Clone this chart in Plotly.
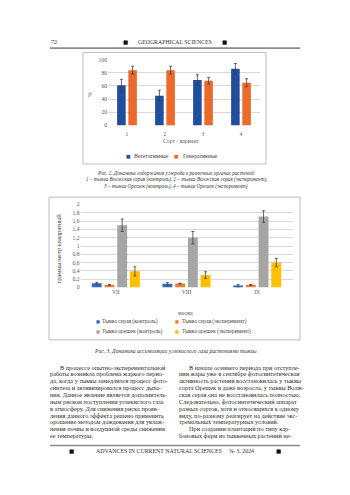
import plotly.graph_objects as go

W, H = 350, 495

# ---------------- data: chart 1 (Рис. 2) ----------------
cats1 = ["1", "2", "3", "4"]
veg_name = "Вегетативные"
veg_vals = [61, 45, 69, 86]
veg_err = [9, 8.5, 8, 8]
gen_name = "Генеративные"
gen_vals = [84, 84, 68, 65]
gen_err = [6, 6, 5, 6]
y1_ticks = [0, 20, 40, 60, 80, 100]
y1_labels = ["0", "20", "40", "60", "80", "100"]

# ---------------- data: chart 2 (Рис. 3) ----------------
months = ["VII", "VIII", "IX"]
s2_names = ["Тыква серая (контроль)", "Тыква серая (эксперимент)",
            "Тыква орешек (контроль)", "Тыква орешек (эксперимент)"]
seraya_ctrl = [0.10, 0.09, 0.04]
seraya_ctrl_err = [0.02, 0.03, 0.03]
seraya_exp = [0.065, 0.095, 0.065]
seraya_exp_err = [0.01, 0.01, 0.01]
oreshek_ctrl = [1.5, 1.2, 1.71]
oreshek_ctrl_err = [0.15, 0.15, 0.14]
oreshek_exp = [0.39, 0.30, 0.60]
oreshek_exp_err = [0.11, 0.08, 0.10]
y2_ticks = [0, 0.2, 0.4, 0.6, 0.8, 1, 1.2, 1.4, 1.6, 1.8, 2]
y2_labels = ["0", "0,2", "0,4", "0,6", "0,8", "1", "1,2", "1,4", "1,6", "1,8", "2"]

# ---------------- page text ----------------
header_left = "72"
header_title = "GEOGRAPHICAL SCIENCES"
footer_title = "ADVANCES IN CURRENT NATURAL SCIENCES     № 3, 2024"
cap1 = ["Рис. 2. Динамика содержания углерода в различных органах растений:",
        "1 – тыква Волжская серая (контроль), 2 – тыква Волжская серая (эксперимент),",
        "3 – тыква Орешек (контроль), 4 – тыква Орешек (эксперимент)"]
cap2 = "Рис. 3. Динамика ассимиляции углекислого газа растениями тыквы"
x1_title = "Сорт / вариант"
y1_title = "%"
x2_title = "месяц"
y2_title = "граммы/метр квадратный"
left_col = ["В процессе опытно-эксперементальной",
            "работы возникла проблема жаркого перио-",
            "да, когда у тыквы замедлился процесс фото-",
            "синтеза и активизировался процесс дыха-",
            "ния. Данное явление является дополнитель-",
            "ным риском поступления углекислого газа",
            "в атмосферу. Для снижения риска прояв-",
            "ления данного эффекта решено применить",
            "орошение методом дождевания для увлаж-",
            "нения почвы и воздушной среды снижения",
            "ее температуры."]
right_col = ["В начале осеннего периода при отступле-",
             "нии жары уже в сентябре фотосинтетическая",
             "активность растений восстановилась у тыквы",
             "сорта Орешек и даже возросла, у тыквы Волж-",
             "ская серая она не восстановилась полностью.",
             "Следовательно, фотосинтетический аппарат",
             "разных сортов, хотя и относящихся к одному",
             "виду, по-разному реагирует на действие экс-",
             "тремальных температурных условий.",
             "При создании плантаций по типу кар-",
             "боновых ферм из тыквенных растений не-"]
right_indent = [0, 9]  # paragraph-start line indices


def X(px):
    return px / W


def Y(py):
    return 1 - py / H


SERIF = "Liberation Serif, Times New Roman, serif"
C1 = ["#1F4E9C", "#EC6A2C"]
C2 = ["#2E6DB5", "#ED7D31", "#A5A5A5", "#FFC000"]
ERR = "#404040"
TICK = "#595959"

fig = go.Figure()

# chart 1 bars
for name, vals, err, col, off in [(veg_name, veg_vals, veg_err, C1[0], -0.26),
                                  (gen_name, gen_vals, gen_err, C1[1], 0.035)]:
    fig.add_trace(go.Bar(x=cats1, y=vals, name=name, marker_color=col,
                         marker_line_width=0, width=0.225, offset=off,
                         xaxis="x", yaxis="y", showlegend=False,
                         error_y=dict(type="data", array=err, color=ERR,
                                      thickness=0.8, width=1.5)))

# chart 2 bars
s2_vals = [seraya_ctrl, seraya_exp, oreshek_ctrl, oreshek_exp]
s2_err = [seraya_ctrl_err, seraya_exp_err, oreshek_ctrl_err, oreshek_exp_err]
offs2 = [-0.34, -0.16, 0.02, 0.20]
for i in range(4):
    fig.add_trace(go.Bar(x=months, y=s2_vals[i], name=s2_names[i],
                         marker_color=C2[i], marker_line_width=0,
                         width=0.14, offset=offs2[i],
                         xaxis="x2", yaxis="y2", showlegend=False,
                         error_y=dict(type="data", array=s2_err[i], color=ERR,
                                      thickness=0.8, width=1.5)))

tickfont = dict(family=SERIF, size=5.6, color=TICK)

ann = []


def text(x, y, t, size=6, color="#333333", xanchor="center", family=SERIF, angle=0):
    ann.append(dict(x=X(x), y=Y(y), xref="paper", yref="paper", text=t,
                    showarrow=False, xanchor=xanchor, yanchor="middle",
                    textangle=angle, borderpad=0,
                    font=dict(family=family, size=size, color=color)))


SQ = "DejaVu Sans"
# header / footer
text(50, 39, header_left, size=6.2, color="#333", xanchor="left")
text(175, 39, header_title, size=5.8, color="#333")
text(125, 39, "■", size=5.5, color="#111", family=SQ)
text(224, 39, "■", size=5.5, color="#111", family=SQ)
text(175, 454, footer_title, size=5.9, color="#333")
text(71, 454, "■", size=5.5, color="#111", family=SQ)
text(278, 454, "■", size=5.5, color="#111", family=SQ)

# chart 1 titles / legend
text(90, 92, y1_title, size=5.8, color=TICK, angle=-90)
text(181, 139.5, x1_title, size=5.8, color=TICK)
text(128.5, 155, "■", size=4.8, color=C1[0], family=SQ)
text(132.5, 155, veg_name, size=5.8, color="#404040", xanchor="left")
text(177, 155, "■", size=4.8, color=C1[1], family=SQ)
text(181.5, 155, gen_name, size=5.8, color="#404040", xanchor="left")

# caption 1
for i, line in enumerate(cap1):
    text(176, 172.3 + 6.7 * i, "<i>" + line + "</i>", size=5.2, color="#333")

# chart 2 titles / legend
text(58.5, 249, y2_title, size=6.4, color="#404040", angle=-90)
text(185, 314, x2_title, size=5.8, color=TICK)
leg_pos = [(97.5, 322.3), (177.3, 322.3), (97.5, 332.7), (177.3, 332.7)]
for i, (lx, ly) in enumerate(leg_pos):
    text(lx, ly, "■", size=4.2, color=C2[i], family=SQ)
    text(lx + 3.3, ly, s2_names[i], size=5.6, color="#404040", xanchor="left")

# caption 2
text(175.5, 352, "<i>" + cap2 + "</i>", size=5.6, color="#333")

# body text
for i, line in enumerate(left_col):
    text(49 + (10 if i == 0 else 0), 368.5 + 6.95 * i, line, size=6.25,
         color="#2a2a2a", xanchor="left")
for i, line in enumerate(right_col):
    text(177.5 + (10 if i in right_indent else 0), 368.5 + 6.95 * i, line,
         size=6.25, color="#2a2a2a", xanchor="left")

shapes = [
    dict(type="line", xref="paper", yref="paper", x0=X(50), x1=X(300),
         y0=Y(45.7), y1=Y(45.7), line=dict(color="#8C8C8C", width=1.6)),
    dict(type="line", xref="paper", yref="paper", x0=X(50), x1=X(300),
         y0=Y(448), y1=Y(448), line=dict(color="#8C8C8C", width=1.6)),
    dict(type="rect", xref="paper", yref="paper", x0=X(83), x1=X(266),
         y0=Y(163), y1=Y(50), line=dict(color="#BDBDBD", width=1)),
    dict(type="rect", xref="paper", yref="paper", x0=X(49), x1=X(300),
         y0=Y(341), y1=Y(196.5), line=dict(color="#BDBDBD", width=1)),
]

axis_common = dict(showline=False, zeroline=False, tickfont=tickfont, ticks="")

fig.update_layout(
    width=W, height=H, autosize=False,
    margin=dict(l=0, r=0, t=0, b=0, pad=0),
    paper_bgcolor="white", plot_bgcolor="white",
    barmode="overlay", showlegend=False,
    xaxis=dict(domain=[X(108), X(260)], anchor="y", type="category",
               range=[-0.5, 3.5], showgrid=False, ticklabelstandoff=4,
               **axis_common),
    yaxis=dict(domain=[Y(124), Y(57.3)], anchor="x", range=[0, 100],
               tickvals=y1_ticks, ticktext=y1_labels,
               showgrid=True, gridcolor="#D9D9D9", gridwidth=0.8, **axis_common),
    xaxis2=dict(domain=[X(80.5), X(292.5)], anchor="y2", type="category",
                range=[-0.5, 2.5], showgrid=False, **axis_common),
    yaxis2=dict(domain=[Y(288), Y(204)], anchor="x2", range=[0, 2],
                tickvals=y2_ticks, ticktext=y2_labels,
                showgrid=True, gridcolor="#D9D9D9", gridwidth=0.8, **axis_common),
    annotations=ann, shapes=shapes,
)

fig.write_html("out.html")
